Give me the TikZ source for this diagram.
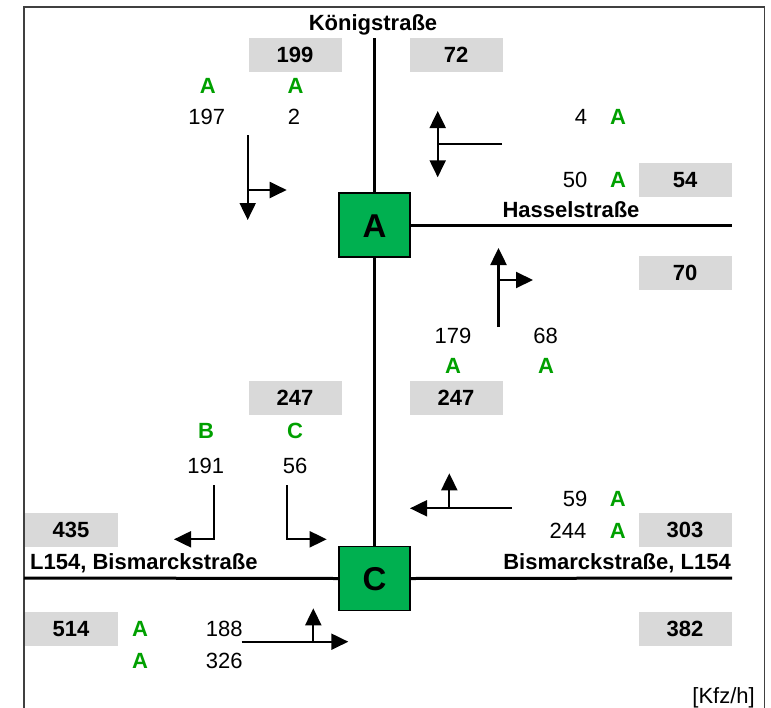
\documentclass[tikz,border=0pt]{standalone}
\usepackage{fontspec}
\setmainfont{Liberation Sans}
\usetikzlibrary{arrows.meta}
\definecolor{boxgray}{HTML}{D9D9D9}
\definecolor{nodegreen}{HTML}{00B050}
\definecolor{losgreen}{HTML}{00A000}
\definecolor{framegray}{HTML}{404040}
\begin{document}
\begin{tikzpicture}[x=1pt,y=-1pt,
  every node/.style={font=\fontsize{22}{26}\selectfont, inner sep=0pt, text height=16pt, text depth=0pt},
  volbox/.style={fill=boxgray, minimum width=93pt, minimum height=34pt, font=\fontsize{22}{26}\selectfont\bfseries},
  los/.style={text=losgreen, font=\fontsize{22}{26}\selectfont\bfseries},
  num/.style={},
  knot/.style={draw=black, line width=1.5pt, fill=nodegreen, minimum width=71pt, minimum height=64pt, text height=24pt, font=\fontsize{33}{37}\selectfont\bfseries},
  street/.style={font=\fontsize{22}{26}\selectfont\bfseries},
  road/.style={line width=3pt},
  stem/.style={line width=2pt},
  turn/.style={line width=2pt, -{Triangle[length=17pt,width=16pt]}}]
\useasboundingbox (0,0) rectangle (771,707);
% frame
\draw[framegray, line width=1.7pt] (24,715) -- (24,7) -- (764.5,7) -- (764.5,715);

% junction nodes
\node[knot] (A) at (374.5,225) {A};
\node[knot] (C) at (374.5,578.5) {C};

% road ends
\coordinate (nEnd) at (374.5,38);
\coordinate (eA) at (732,225);
\coordinate (wC) at (24,578);
\coordinate (eC) at (732,578);
\draw[road] (nEnd) -- (A.north);
\draw[road] (A.south) -- (C.north);
\draw[road] (A.east) -- (eA);
\draw[road] (wC) -- (C.west);
\draw[road] (C.east) -- (eC);

% street names
\node[street] (kn) at (373,22) {Königstraße};
\node[street] (hs) at (571,209) {Hasselstraße};
\node[street, anchor=west] (bw) at (30,561.7) {L154, Bismarckstraße};
\node[street, anchor=east] (be) at (731,561.7) {Bismarckstraße, L154};
\node[anchor=east] (unit) at (755,695) {[Kfz/h]};

% volume boxes
\node[volbox] (b199) at (295,54.5) {199};
\node[volbox] (b72) at (456,54.5) {72};
\node[volbox] (b54) at (685,179.5) {54};
\node[volbox] (b70) at (685,272.5) {70};
\node[volbox] (b247r) at (456,397.5) {247};
\node[volbox] (b247l) at (295,397.5) {247};
\node[volbox] (b435) at (71,529.5) {435};
\node[volbox] (b514) at (71,628.5) {514};
\node[volbox] (b303) at (685,529.5) {303};
\node[volbox] (b382) at (685,628.5) {382};

% north approach to A
\node[los] (l1) at (207.7,85.5) {A};
\node[los] (l2) at (295.5,85.5) {A};
\node[num] (n197) at (206.7,116) {197};
\node[num] (n2) at (294,116) {2};
\coordinate (t1a) at (247.7,135);
\coordinate (t1b) at (247.7,220);
\coordinate (t1m) at (247.7,190);
\coordinate (t1c) at (286.7,190);
\draw[turn] (t1a) -- (t1b);
\draw[turn] (t1m) -- (t1c);

% east approach to A
\node[num] (n4) at (581,116.7) {4};
\node[los] (l3) at (618,116.7) {A};
\node[num] (n50) at (575,179) {50};
\node[los] (l4) at (618,179) {A};
\coordinate (t2a) at (502,144);
\coordinate (t2m) at (437.7,144);
\coordinate (t2u) at (437.7,111);
\coordinate (t2d) at (437.7,177.3);
\draw[stem] (t2a) -- (t2m);
\draw[turn] (t2m) -- (t2u);
\draw[turn] (t2m) -- (t2d);

% south approach to A
\node[num] (n179) at (453,335) {179};
\node[num] (n68) at (545.7,335) {68};
\node[los] (l5) at (453,365.7) {A};
\node[los] (l6) at (546,365.7) {A};
\coordinate (t3a) at (498.5,327);
\coordinate (t3b) at (498.5,248);
\coordinate (t3m) at (498.5,280);
\coordinate (t3c) at (533,280);
\draw[turn, line width=2.5pt] (t3a) -- (t3b);
\draw[turn] (t3m) -- (t3c);

% north approach to C
\node[los] (l7) at (206,430.7) {B};
\node[los] (l8) at (295,430.7) {C};
\node[num] (n191) at (205.7,465) {191};
\node[num] (n56) at (295,465) {56};
\coordinate (t4a) at (214.3,485);
\coordinate (t4m) at (214.3,539.3);
\coordinate (t4b) at (174,539.3);
\coordinate (t5a) at (287.3,485);
\coordinate (t5m) at (287.3,539.3);
\coordinate (t5b) at (326.7,539.3);
\draw[turn] (t4a) -- (t4m) -- (t4b);
\draw[turn] (t5a) -- (t5m) -- (t5b);

% east approach to C
\node[num] (n59) at (575,498.3) {59};
\node[los] (l9) at (617.7,498.3) {A};
\node[num] (n244) at (568,530) {244};
\node[los] (l10) at (617.7,530) {A};
\coordinate (t6a) at (511.7,508.3);
\coordinate (t6b) at (410,508.3);
\coordinate (t6m) at (449.3,508.3);
\coordinate (t6c) at (449.3,473.3);
\draw[turn] (t6a) -- (t6b);
\draw[turn] (t6m) -- (t6c);

% west approach to C
\node[los] (l11) at (140,628.3) {A};
\node[los] (l12) at (140,660.7) {A};
\node[num] (n188) at (224.3,628.3) {188};
\node[num] (n326) at (224.3,660.7) {326};
\coordinate (t7a) at (241.7,641.7);
\coordinate (t7b) at (348.3,641.7);
\coordinate (t7m) at (313.3,641.7);
\coordinate (t7c) at (313.3,608.3);
\draw[turn] (t7a) -- (t7b);
\draw[turn] (t7m) -- (t7c);
\end{tikzpicture}
\end{document}
